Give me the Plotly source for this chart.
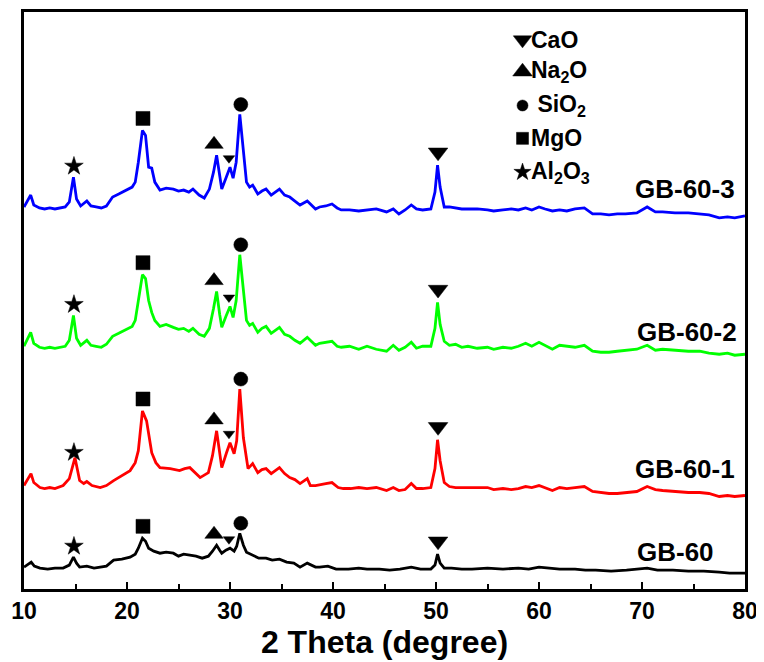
import numpy as np
import plotly.graph_objects as go

# ---------------- data (2 theta in degrees, intensity in a.u., stacked) ----------------
x_gb60_3 = [10.0, 10.3, 10.65, 10.95, 11.5, 12.0, 12.5, 13.0, 13.5, 14.0, 14.4, 14.8, 15.1, 15.5, 16.1, 16.5,
            17.0, 17.5, 18.0, 18.6, 19.2, 20.0, 20.5, 20.8, 21.1, 21.5, 21.8, 22.1, 22.4, 22.7, 23.2, 23.8,
            24.5, 25.0, 25.5, 26.0, 26.4, 27.0, 27.5, 28.0, 28.4, 28.7, 29.0, 29.2, 29.6, 30.0, 30.3, 30.6,
            30.95, 31.25, 31.6, 31.9, 32.2, 32.7, 33.1, 33.5, 34.0, 34.4, 34.8, 35.3, 35.8, 36.3, 36.8, 37.5,
            38.3, 38.7, 39.3, 39.9, 40.4, 40.8, 41.6, 42.5, 43.3, 44.2, 45.2, 45.85, 46.4, 47.0, 47.6, 48.1,
            48.7, 49.5, 49.9, 50.15, 50.4, 50.8, 51.3, 51.9, 52.5, 53.1, 54.0, 55.0, 55.6, 56.5, 57.3, 58.0,
            58.7, 59.3, 60.0, 60.6, 61.3, 62.0, 62.7, 63.5, 64.4, 65.2, 66.0, 66.8, 67.6, 68.4, 69.5, 70.5,
            71.3, 72.0, 73.2, 74.5, 75.6, 76.5, 77.5, 78.3, 79.0, 80.0]
y_gb60_3 = [384, 389, 396, 386, 383, 382, 383, 382, 383, 384, 389, 414, 392, 385, 390, 385,
            384, 383, 385, 394, 397, 401, 404, 409, 429, 461, 456, 424, 423, 409, 401, 403,
            402, 400, 401, 399, 402, 396, 393, 402, 419, 436, 414, 402, 413, 424, 413, 429,
            477, 442, 409, 404, 406, 397, 400, 402, 396, 399, 402, 396, 394, 390, 386, 390,
            382, 384, 385, 387, 383, 381, 381, 380, 381, 382, 379, 382, 377, 381, 386, 382,
            381, 382, 399, 426, 404, 384, 384, 383, 382, 382, 382, 381, 380, 381, 382, 381,
            383, 381, 384, 382, 380, 381, 380, 382, 383, 377, 377, 376, 377, 377, 378, 384,
            379, 379, 378, 378, 377, 376, 373, 374, 373, 375]

x_gb60_2 = x_gb60_3
y_gb60_2 = [244, 250, 258, 247, 243, 242, 243, 242, 243, 244, 250, 275, 252, 245, 250, 245,
            244, 243, 246, 254, 257, 261, 264, 270, 292, 316, 312, 290, 278, 270, 264, 266,
            263, 261, 262, 259, 262, 256, 254, 262, 282, 299, 276, 263, 274, 284, 273, 290,
            336, 302, 270, 265, 267, 258, 262, 264, 257, 260, 263, 256, 254, 250, 247, 253,
            245, 247, 248, 249, 244, 243, 244, 241, 244, 241, 239, 245, 240, 243, 248, 242,
            244, 244, 262, 288, 266, 249, 245, 246, 243, 244, 242, 243, 241, 243, 242, 244,
            247, 244, 248, 245, 241, 245, 244, 243, 245, 239, 238, 238, 239, 240, 241, 245,
            240, 241, 240, 239, 239, 237, 236, 237, 235, 236]

x_gb60_1 = [10.0, 10.3, 10.68, 10.95, 11.55, 12.0, 12.5, 13.0, 13.8, 14.4, 14.95, 15.4, 15.8, 16.1, 16.6, 17.4,
            18.0, 18.7, 19.5, 20.3, 20.8, 21.1, 21.5, 21.9, 22.4, 22.8, 23.2, 24.2, 25.1, 25.6, 26.1, 26.6,
            27.1, 27.9, 28.3, 28.7, 29.0, 29.2, 29.66, 30.0, 30.4, 30.65, 30.95, 31.3, 31.75, 32.2, 32.7, 33.1,
            33.5, 34.0, 34.4, 34.8, 35.3, 35.8, 36.3, 36.8, 37.5, 37.8, 38.3, 38.7, 39.3, 39.9, 40.5, 41.0,
            41.7, 42.5, 43.3, 44.2, 45.2, 45.85, 46.4, 47.0, 47.6, 48.1, 48.7, 49.5, 49.9, 50.15, 50.4, 50.8,
            51.3, 51.9, 52.5, 53.1, 54.0, 55.0, 55.6, 56.5, 57.3, 58.0, 58.7, 59.3, 60.0, 60.6, 61.3, 62.0,
            62.7, 63.5, 64.4, 65.2, 66.0, 66.8, 67.6, 68.4, 69.5, 70.5, 71.3, 72.0, 73.2, 74.5, 75.6, 76.5,
            77.5, 78.3, 79.0, 80.0]
y_gb60_1 = [104, 109, 116, 107, 102, 101, 102, 101, 104, 111, 132, 109, 106, 108, 104, 102,
            104, 109, 114, 119, 127, 139, 179, 169, 137, 127, 122, 121, 119, 121, 122, 117,
            112, 117, 134, 159, 137, 122, 137, 147, 136, 149, 201, 152, 121, 126, 117, 120,
            121, 116, 119, 122, 116, 112, 110, 106, 111, 104, 104, 105, 106, 107, 102, 101,
            101, 102, 101, 102, 99, 102, 99, 100, 106, 101, 101, 102, 121, 150, 129, 107,
            103, 102, 102, 102, 102, 102, 100, 101, 100, 101, 103, 102, 104, 102, 99, 102,
            101, 102, 103, 98, 97, 96, 96, 97, 98, 103, 100, 99, 98, 97, 97, 96,
            93, 94, 93, 94]

x_gb60 = [10.0, 10.3, 10.7, 11.0, 11.55, 12.3, 13.0, 13.8, 14.4, 14.8, 15.1, 15.4, 16.1, 16.8, 17.4, 18.0,
          18.7, 19.5, 20.3, 20.8, 21.1, 21.5, 21.8, 22.1, 22.6, 23.2, 23.8, 24.5, 25.0, 25.5, 26.1, 26.7,
          27.3, 27.9, 28.3, 28.7, 29.0, 29.2, 29.6, 30.0, 30.4, 30.65, 30.95, 31.3, 31.6, 32.2, 32.8, 33.5,
          34.1, 34.8, 35.5, 36.2, 36.8, 37.5, 38.3, 38.7, 39.5, 40.3, 41.5, 42.5, 43.3, 44.5, 45.5, 46.5,
          47.6, 48.5, 49.5, 49.9, 50.15, 50.4, 50.8, 51.5, 52.5, 53.5, 55.0, 56.5, 58.0, 59.0, 60.0, 61.0,
          62.0, 63.5, 64.5, 65.5, 67.0, 68.5, 70.5, 71.5, 73.0, 74.5, 76.0, 77.5, 78.5, 80.0]
y_gb60 = [22, 24, 27, 23, 21, 20, 21, 21, 24, 32, 26, 22, 23, 21, 22, 23,
          29, 30, 32, 35, 41, 51, 48, 41, 38, 36, 37, 36, 33, 35, 34, 33,
          31, 33, 38, 44, 39, 36, 39, 41, 38, 43, 56, 44, 37, 34, 31, 31,
          29, 30, 27, 26, 22, 26, 22, 22, 23, 20, 20, 21, 20, 20, 19, 20,
          22, 20, 20, 24, 35, 26, 21, 21, 20, 20, 21, 20, 21, 20, 22, 21,
          20, 20, 19, 19, 18, 19, 21, 19, 19, 18, 18, 17, 16, 16]

series_names = ["GB-60-3", "GB-60-2", "GB-60-1", "GB-60"]
series_colors = ["#0000FF", "#00FF00", "#FF0000", "#000000"]

# phase peak positions (2 theta) and marker symbols
peak_pos = [14.85, 21.55, 28.45, 29.9, 31.05, 50.2]
peak_ref = [14.8, 21.5, 28.7, 30.0, 30.95, 50.15]
peak_symbols = ["star", "square", "triangle-up", "triangle-down", "circle", "triangle-down"]
peak_sizes = [14, 14, 16, 10, 14, 17]
peak_offsets = [11, 12, 11, 9, 10, 13]

# legend of phases
legend_symbols = ["triangle-down", "triangle-up", "circle", "square", "star"]
legend_labels = ["CaO", "Na<sub>2</sub>O", " SiO<sub>2</sub>", "MgO", "Al<sub>2</sub>O<sub>3</sub>"]
legend_sizes = [16, 17, 11, 12, 13]

label_x = [79.2, 79.4, 79.2, 77.2]
label_y = [402, 258, 121, 37]

x_ticks = [10, 20, 30, 40, 50, 60, 70, 80]

# ---------------- figure ----------------
FONT = "Arial, Liberation Sans, sans-serif"
fig = go.Figure()

all_x = [x_gb60_3, x_gb60_2, x_gb60_1, x_gb60]
all_y = [y_gb60_3, y_gb60_2, y_gb60_1, y_gb60]

for xs, ys, name, col in zip(all_x, all_y, series_names, series_colors):
    fig.add_trace(go.Scatter(x=xs, y=ys, mode="lines", name=name,
                             line=dict(color=col, width=2.8),
                             showlegend=False, hoverinfo="skip"))

# peak markers above each curve
for xs, ys in zip(all_x, all_y):
    mx, my = [], []
    for p, r, off in zip(peak_pos, peak_ref, peak_offsets):
        mx.append(p)
        my.append(float(np.interp(r, xs, ys)) + off)
    fig.add_trace(go.Scatter(x=mx, y=my, mode="markers", showlegend=False, hoverinfo="skip",
                             marker=dict(symbol=peak_symbols, size=peak_sizes, color="#000000",
                                         opacity=1, line=dict(width=0.5, color="#000000"))))

# sample labels
for name, lx, ly in zip(series_names, label_x, label_y):
    fig.add_annotation(x=lx, y=ly, text=name, showarrow=False, xanchor="right", yanchor="middle",
                       font=dict(family=FONT, size=26, color="black", weight="bold"))

# phase legend
leg_x = 58.4
leg_y = [552, 520, 486, 453, 419]
fig.add_trace(go.Scatter(x=[leg_x] * len(leg_y), y=leg_y, mode="markers", showlegend=False,
                         hoverinfo="skip",
                         marker=dict(symbol=legend_symbols, size=legend_sizes, color="#000000",
                                     opacity=1, line=dict(width=0.5, color="#000000"))))
for lab, ly in zip(legend_labels, leg_y):
    fig.add_annotation(x=leg_x + 0.6, y=ly, text=lab, showarrow=False, xanchor="left",
                       yanchor="middle",
                       font=dict(family=FONT, size=23, color="black", weight="bold"))

# the page adds an 8 px body margin, so the figure is sized to fit the window
fig.update_layout(
    width=756, height=654,
    margin=dict(l=16, r=19, t=1, b=73),
    paper_bgcolor="white", plot_bgcolor="white",
    showlegend=False,
)
fig.update_xaxes(range=[10, 80], tickvals=x_ticks, ticks="inside", ticklen=7, tickwidth=2,
                 tickcolor="black",
                 minor=dict(dtick=5, ticks="inside", ticklen=5, tickwidth=2, tickcolor="black"),
                 showline=True, linecolor="black", linewidth=2.5, mirror=True,
                 showgrid=False, zeroline=False,
                 tickfont=dict(family=FONT, size=23, color="black", weight="bold"),
                 title=dict(text="2 Theta (degree)", standoff=0,
                            font=dict(family=FONT, size=32, color="black", weight="bold")))
fig.update_yaxes(range=[0, 580], showticklabels=False, ticks="",
                 showline=True, linecolor="black", linewidth=2.5, mirror=True,
                 showgrid=False, zeroline=False)

fig.write_html("out.html")
